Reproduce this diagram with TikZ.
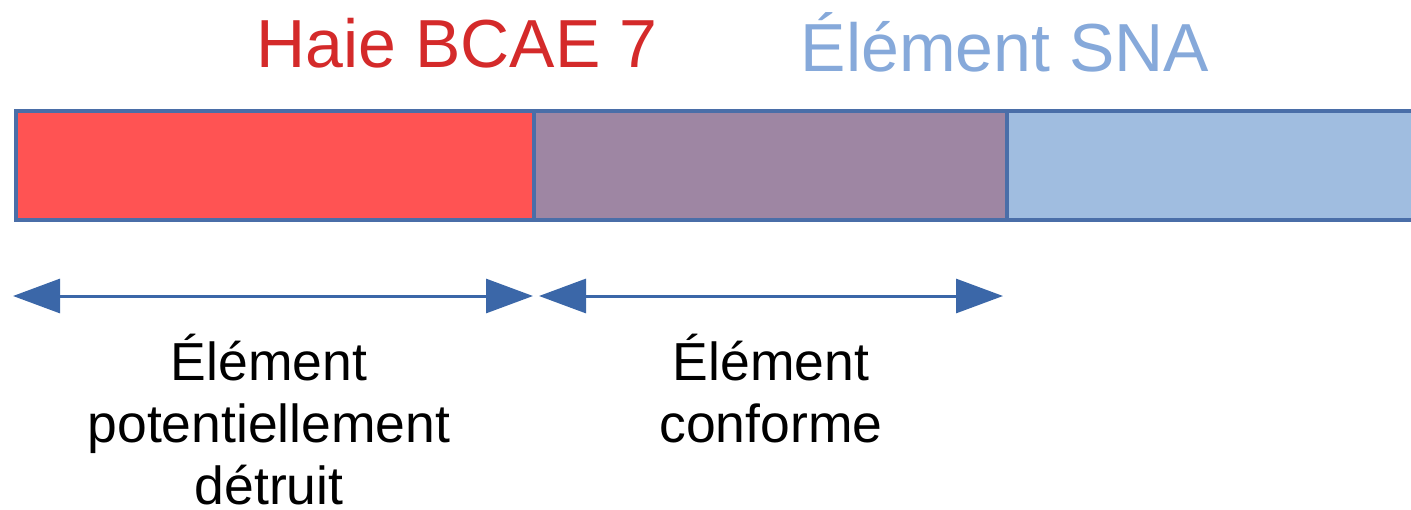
\documentclass[tikz,border=0pt]{standalone}
\usepackage{fontspec}
\setmainfont{Liberation Sans}
\usetikzlibrary{arrows.meta}
\definecolor{barborder}{HTML}{4A6EA8}
\definecolor{redfill}{HTML}{FF5353}
\definecolor{purplefill}{HTML}{9E86A3}
\definecolor{bluefill}{HTML}{A0BDE0}
\definecolor{arrowblue}{HTML}{3B67A8}
\definecolor{titlered}{HTML}{D42A2A}
\definecolor{titleblue}{HTML}{86A9DA}
\tikzset{
  seg/.style={draw=barborder, line width=4pt, inner sep=0pt, minimum height=109pt, anchor=north west},
  dimarrow/.style={draw=arrowblue, line width=3pt, {Triangle[length=47pt,width=34pt]}-{Triangle[length=47pt,width=34pt]}},
  title/.style={font=\fontsize{68}{78}\selectfont, anchor=base, inner sep=0pt},
  label/.style={font=\fontsize{53.5}{62}\selectfont, align=center, anchor=base, inner sep=0pt, text=black}
}
\begin{document}
\begin{tikzpicture}[x=1pt,y=-1pt]
\useasboundingbox (0,0) rectangle (1411,509);
\begin{scope}
\clip (0,0) rectangle (1411,509);
\node[seg, fill=bluefill, minimum width=420pt] (sna) at (1005,109) {};
\end{scope}
\node[seg, fill=redfill, minimum width=518pt] (haie) at (14,109) {};
\node[seg, fill=purplefill, minimum width=473pt] (conf) at (532,109) {};
\node[title, text=titlered] (t1) at (457,67) {Haie BCAE 7};
\node[title, text=titleblue] (t2) at (1005,71) {Élément SNA};
\coordinate (a1l) at (13,296);
\coordinate (a1r) at (533,296);
\coordinate (a2l) at (539,296);
\coordinate (a2r) at (1003,296);
\draw[dimarrow] (a1l) -- (a1r);
\draw[dimarrow] (a2l) -- (a2r);
\node[label] (l1) at (269,504) {Élément\\potentiellement\\détruit};
\node[label] (l2) at (771,442) {Élément\\conforme};
\end{tikzpicture}
\end{document}
